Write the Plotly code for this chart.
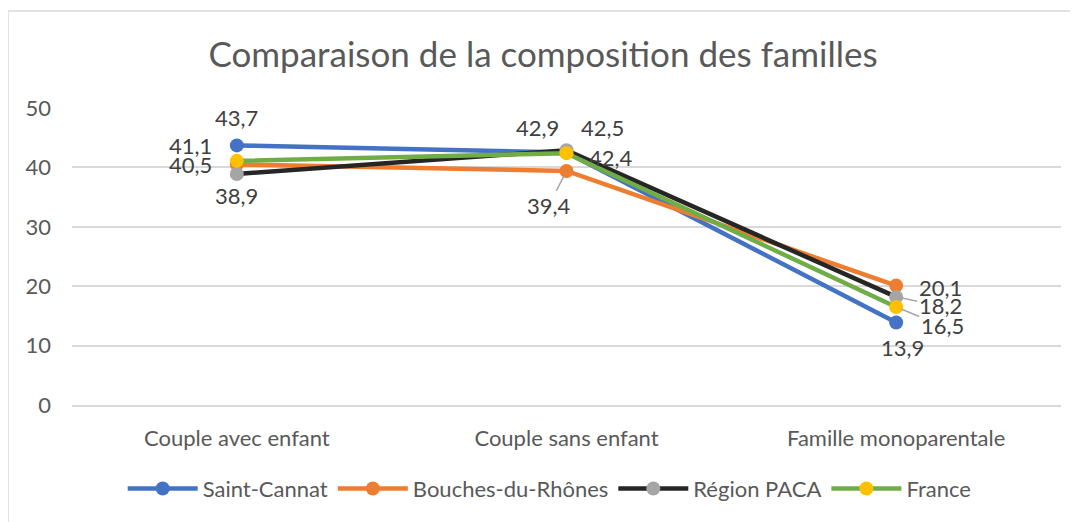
import plotly.graph_objects as go

categories = ['Couple avec enfant', 'Couple sans enfant', 'Famille monoparentale']
series_names = ['Saint-Cannat', 'Bouches-du-Rhônes', 'Région PACA', 'France']
saint_cannat = [43.7, 42.5, 13.9]
bouches_du_rhone = [40.5, 39.4, 20.1]
region_paca = [38.9, 42.9, 18.2]
france = [41.1, 42.4, 16.5]
y_ticks = [0, 10, 20, 30, 40, 50]

values = [saint_cannat, bouches_du_rhone, region_paca, france]
line_colors = ['#4472C4', '#ED7D31', '#262626', '#70AD47']
marker_colors = ['#4472C4', '#ED7D31', '#A5A5A5', '#FFC000']

# label offsets in pixels (dx, dy screen-down), per series per category, and leader flag
label_pos = [
    [(0, -28, False), (36, -25, False), (6, 25, False)],
    [(-46, 0, False), (-18, 35, True), (44, 2, False)],
    [(0, 22, False), (-29, -23, False), (44, 9, True)],
    [(-46, -15, False), (44, 4, False), (46, 19, True)],
]

FONT = 'Lato, Open Sans, sans-serif'

fig = go.Figure()
for name, vals, lc, mc in zip(series_names, values, line_colors, marker_colors):
    fig.add_trace(go.Scatter(
        x=categories,
        y=vals,
        name=name,
        mode='lines+markers',
        line=dict(color=lc, width=4.5),
        marker=dict(color=mc, size=14),
        hoverinfo='skip',
    ))

for vals, positions in zip(values, label_pos):
    for cat, v, (dx, dy, leader) in zip(categories, vals, positions):
        fig.add_annotation(
            x=cat, y=v,
            text=f'{v:.1f}'.replace('.', ','),
            showarrow=True,
            ax=dx, ay=dy,
            arrowhead=0,
            arrowwidth=1.5,
            arrowcolor='#A6A6A6' if leader else 'rgba(0,0,0,0)',
            standoff=6,
            font=dict(family=FONT, size=22, color='#404040'),
        )

# chart frame
fig.add_shape(type='rect', xref='paper', yref='paper',
              x0=-0.0647, x1=1.05, y0=-0.42, y1=1.3267,
              line=dict(color='#D9D9D9', width=1.5), layer='below')

fig.update_layout(
    width=1070, height=514,
    margin=dict(l=64, r=17, t=100, b=114),
    paper_bgcolor='white',
    plot_bgcolor='white',
    font=dict(family=FONT, color='#595959'),
    title=dict(
        text='Comparaison de la composition des familles',
        x=0.5, xanchor='center',
        y=0.9086, yanchor='middle',
        font=dict(family=FONT, size=35, color='#595959'),
    ),
    showlegend=True,
    legend=dict(
        orientation='h',
        x=0.483, xanchor='center',
        y=-0.282, yanchor='middle',
        font=dict(family=FONT, size=22, color='#595959'),
        itemwidth=70,
        tracegroupgap=0,
    ),
    xaxis=dict(
        type='category',
        range=[-0.5, 2.5],
        showgrid=False,
        showline=True,
        linecolor='#D9D9D9',
        linewidth=1.5,
        ticks='',
        ticklabelstandoff=13,
        tickfont=dict(family=FONT, size=22, color='#595959'),
        fixedrange=True,
    ),
    yaxis=dict(
        range=[0, 50],
        tickvals=y_ticks,
        showgrid=True,
        gridcolor='#D9D9D9',
        gridwidth=1.5,
        zeroline=False,
        showline=False,
        ticks='',
        ticklabelstandoff=20,
        tickfont=dict(family=FONT, size=22, color='#595959'),
        fixedrange=True,
    ),
)

fig.write_html('out.html')
